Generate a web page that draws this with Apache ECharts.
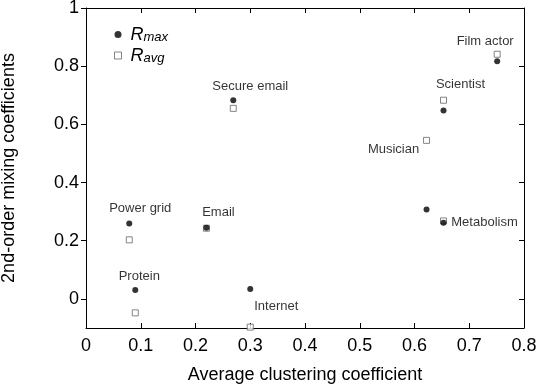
<!DOCTYPE html>
<html>
<head>
<meta charset="utf-8">
<script src="https://cdn.jsdelivr.net/npm/echarts@6/dist/echarts.min.js"></script>
<style>
  html, body { margin: 0; padding: 0; background: #fff; }
  #chart { width: 545px; height: 386px; }
</style>
</head>
<body>
<div id="chart"></div>
<script>
  // networks and their values
  var names = ['Power grid', 'Protein', 'Email', 'Secure email', 'Internet', 'Musician', 'Metabolism', 'Scientist', 'Film actor'];
  var clustering = [0.079, 0.090, 0.220, 0.269, 0.300, 0.622, 0.653, 0.653, 0.751];
  var rMax = [0.259, 0.031, 0.245, 0.683, 0.034, 0.307, 0.262, 0.648, 0.817];
  var rAvg = [0.203, -0.048, 0.243, 0.655, -0.097, 0.545, 0.268, 0.683, 0.841];
  var yTicks = [0, 0.2, 0.4, 0.6, 0.8, 1];

  // where each name sits relative to its filled dot (px)
  var labelOffsets = {
    'Power grid': [11, -15],
    'Protein': [4, -13],
    'Email': [12, -15],
    'Secure email': [17, -14],
    'Internet': [26, 17],
    'Musician': [-33, -60],
    'Metabolism': [41, 0],
    'Scientist': [17, -26],
    'Film actor': [-12, -20]
  };

  var FONT = 'Liberation Sans, Arial, sans-serif';

  function build(ys, withLabels) {
    var out = [];
    for (var i = 0; i < names.length; i++) {
      var item = { name: names[i], value: [clustering[i], ys[i]] };
      if (withLabels) {
        item.label = {
          show: true, position: 'inside', formatter: names[i],
          offset: labelOffsets[names[i]], color: '#000',
          fontSize: 13, fontFamily: FONT, align: 'center', verticalAlign: 'middle'
        };
      }
      out.push(item);
    }
    return out;
  }

  var chart = echarts.init(document.getElementById('chart'));
  var option = {
    animation: false,
    backgroundColor: '#fff',
    grid: { left: 86, right: 21, top: 8, bottom: 58, outerBoundsMode: 'none', containLabel: false },
    legend: {
      orient: 'vertical', left: 114, top: 25, padding: 0, itemGap: 2,
      itemWidth: 7, itemHeight: 7,
      data: [
        { name: 'Rmax', icon: 'circle', itemStyle: { color: '#000' } },
        { name: 'Ravg', icon: 'rect', itemStyle: { color: '#fff', borderColor: '#666', borderWidth: 1 } }
      ],
      formatter: function (n) {
        return '{r|R}{s|' + n.slice(1) + '}';
      },
      textStyle: {
        rich: {
          r: { fontSize: 18, fontStyle: 'italic', fontFamily: FONT, color: '#000', lineHeight: 17, padding: [0, 0, 0, 4] },
          s: { fontSize: 13, fontStyle: 'italic', fontFamily: FONT, color: '#000', lineHeight: 17, padding: [6, 0, 0, 0] }
        }
      }
    },
    xAxis: [{
      type: 'value', min: 0, max: 0.8, interval: 0.1,
      name: 'Average clustering coefficient', nameLocation: 'middle', nameGap: 38,
      nameTextStyle: { fontSize: 18, fontFamily: FONT, color: '#000' },
      axisLine: { show: true, onZero: false, lineStyle: { color: '#000', width: 1 } },
      axisTick: { show: true, inside: true, length: 5, lineStyle: { color: '#000' } },
      axisLabel: { fontSize: 18, fontFamily: FONT, color: '#000', margin: 9 },
      splitLine: { show: false }
    }, {
      type: 'value', position: 'top', min: 0, max: 0.8, interval: 0.1,
      axisLine: { show: true, onZero: false, lineStyle: { color: '#000', width: 1 } },
      axisTick: { show: true, inside: true, length: 5, lineStyle: { color: '#000' } },
      axisLabel: { show: false },
      splitLine: { show: false }
    }],
    yAxis: [{
      type: 'value', min: -0.1, max: 1,
      name: '2nd-order mixing coefficients', nameLocation: 'middle', nameGap: 68,
      nameTextStyle: { fontSize: 18, fontFamily: FONT, color: '#000' },
      axisLine: { show: true, onZero: false, lineStyle: { color: '#000', width: 1 } },
      axisTick: { show: true, inside: false, length: 5, customValues: yTicks, lineStyle: { color: '#000' } },
      axisLabel: { fontSize: 18, fontFamily: FONT, color: '#000', margin: 7, customValues: yTicks },
      splitLine: { show: false }
    }, {
      type: 'value', position: 'right', min: -0.1, max: 1,
      axisLine: { show: true, onZero: false, lineStyle: { color: '#000', width: 1 } },
      axisTick: { show: true, inside: true, length: 5, customValues: yTicks, lineStyle: { color: '#000' } },
      axisLabel: { show: false, customValues: yTicks },
      splitLine: { show: false }
    }],
    series: [{
      name: 'Ravg', type: 'scatter', symbol: 'rect', symbolSize: 6,
      itemStyle: { color: '#fff', borderColor: '#666', borderWidth: 1 },
      data: build(rAvg, false)
    }, {
      name: 'Rmax', type: 'scatter', symbol: 'circle', symbolSize: 6,
      itemStyle: { color: '#000' },
      data: build(rMax, true)
    }]
  };
  chart.setOption(option);
</script>
</body>
</html>
